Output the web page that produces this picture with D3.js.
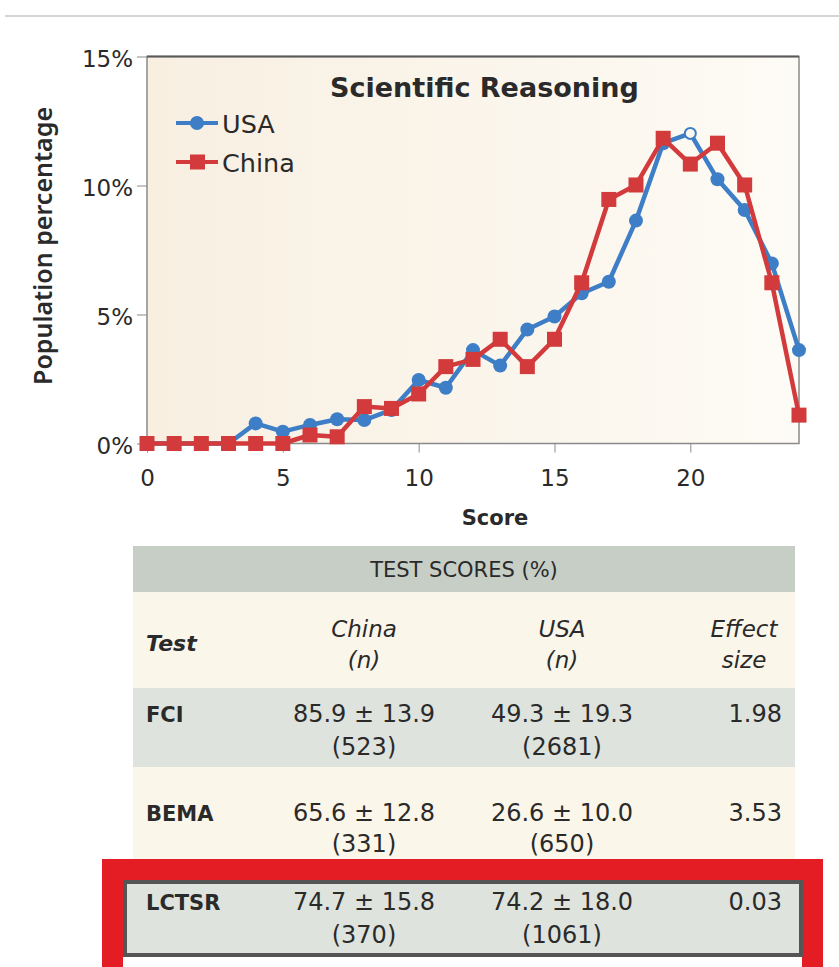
<!DOCTYPE html>
<html>
<head>
<meta charset="utf-8">
<script src="https://cdn.jsdelivr.net/npm/d3@7"></script>
<style>
  body { margin: 0; background: #fff; }
  svg { display: block; font-family: "DejaVu Sans", sans-serif; }
</style>
</head>
<body>
<div id="chart"></div>
<script>
// data
const scores = [0,1,2,3,4,5,6,7,8,9,10,11,12,13,14,15,16,17,18,19,20,21,22,23,24]
const usa   = [0,0,0,0,0.78,0.46,0.72,0.94,0.91,1.30,2.46,2.16,3.62,3.02,4.42,4.92,5.82,6.27,8.64,11.64,12.02,10.24,9.05,6.98,3.62]
const china = [0,0,0,0,0,0,0.33,0.26,1.43,1.36,1.92,2.98,3.26,4.04,2.98,4.04,6.23,9.46,10.02,11.83,10.83,11.64,10.02,6.23,1.10]
const usaOpenScore = 20
const yTicks = [0,5,10,15]
const xTicks = [0,5,10,15,20]

const tests = ["FCI","BEMA","LCTSR"]
const chinaMean = [85.9,65.6,74.7]
const chinaSD = [13.9,12.8,15.8]
const chinaN = [523,331,370]
const usaMean = [49.3,26.6,74.2]
const usaSD = [19.3,10.0,18.0]
const usaN = [2681,650,1061]
const effectSize = [1.98,3.53,0.03]

const W = 839, H = 967
const blue = "#3d7ec6", red = "#d23a3b", ink = "#2a2a2a"

const svg = d3.select("#chart").append("svg").attr("width", W).attr("height", H)

// top rule
svg.append("line").attr("x1",5).attr("x2",W).attr("y1",16).attr("y2",16)
  .attr("stroke","#d4d4d4").attr("stroke-width",2)

// plot
const x = d3.scaleLinear().domain([0,24]).range([147,799])
const y = d3.scaleLinear().domain([0,15]).range([443.5,56.5])

const defs = svg.append("defs")
const grad = defs.append("linearGradient").attr("id","bg")
grad.append("stop").attr("offset","0%").attr("stop-color","#f8efe1")
grad.append("stop").attr("offset","100%").attr("stop-color","#fdfbf5")

svg.append("rect").attr("x",x(0)).attr("y",y(15))
  .attr("width",x(24)-x(0)).attr("height",y(0)-y(15))
  .attr("fill","url(#bg)").attr("stroke","#8a8a8a").attr("stroke-width",1.5)
svg.append("line").attr("x1",x(0)).attr("x2",x(24)).attr("y1",y(15)).attr("y2",y(15))
  .attr("stroke","#5a5a5a").attr("stroke-width",2)

const yAxis = svg.append("g").attr("transform",`translate(${x(0)},0)`)
  .call(d3.axisLeft(y).tickValues(yTicks).tickSize(10).tickPadding(4).tickFormat(d => d + "%"))
const xAxis = svg.append("g").attr("transform",`translate(0,${y(0)})`)
  .call(d3.axisBottom(x).tickValues(xTicks).tickSize(9))
;[yAxis, xAxis].forEach(a => {
  a.select(".domain").remove()
  a.selectAll("line").attr("stroke","#8a8a8a")
  a.selectAll("text").attr("font-size",23).attr("fill",ink).attr("font-family","DejaVu Sans")
})
yAxis.selectAll("text").attr("dy","0.42em")
xAxis.selectAll("text").attr("y",42).attr("dy",0)

svg.append("text").attr("x",495).attr("y",525).attr("text-anchor","middle")
  .attr("font-size",21).attr("font-weight",700).attr("fill",ink).text("Score")
svg.append("text").attr("transform","translate(52,246) rotate(-90)").attr("text-anchor","middle")
  .attr("font-family","Noto Sans").attr("font-size",25).attr("font-weight",600)
  .attr("fill",ink).text("Population percentage")

svg.append("text").attr("x",330).attr("y",97)
  .attr("font-size",27).attr("font-weight",700).attr("fill",ink).text("Scientific Reasoning")

const line = d3.line().x((d,i) => x(scores[i])).y(d => y(d))

// USA
svg.append("path").datum(usa).attr("d",line).attr("fill","none")
  .attr("stroke",blue).attr("stroke-width",4.5).attr("stroke-linejoin","round")
svg.selectAll(".usa").data(usa).enter().append("circle").attr("class","usa")
  .attr("cx",(d,i) => x(scores[i])).attr("cy",d => y(d))
  .attr("r",(d,i) => scores[i] == usaOpenScore ? 5.5 : 7)
  .attr("fill",(d,i) => scores[i] == usaOpenScore ? "#fbf8f0" : blue)
  .attr("stroke",blue).attr("stroke-width",(d,i) => scores[i] == usaOpenScore ? 2 : 0)

// China
svg.append("path").datum(china).attr("d",line).attr("fill","none")
  .attr("stroke",red).attr("stroke-width",4.5).attr("stroke-linejoin","round")
svg.selectAll(".china").data(china).enter().append("rect").attr("class","china")
  .attr("x",(d,i) => x(scores[i]) - 7.5).attr("y",d => y(d) - 7.5)
  .attr("width",15).attr("height",15).attr("fill",red)

// legend
const legend = [{name:"USA", color:blue, y:123}, {name:"China", color:red, y:162}]
legend.forEach(l => {
  svg.append("line").attr("x1",176).attr("x2",218).attr("y1",l.y).attr("y2",l.y)
    .attr("stroke",l.color).attr("stroke-width",4)
  if (l.name == "USA")
    svg.append("circle").attr("cx",197).attr("cy",l.y).attr("r",7).attr("fill",l.color)
  else
    svg.append("rect").attr("x",190).attr("y",l.y-7.5).attr("width",15).attr("height",15).attr("fill",l.color)
  svg.append("text").attr("x",222).attr("y",l.y+9.5).attr("font-size",25.5)
    .attr("fill",ink).text(l.name)
})

// table
const T = {left:133, right:795}
const rowTop = [688,767,862], rowBottom = [767,862,957]
const colChina = 364, colUSA = 562, colEffect = 782, colTest = 146

svg.append("rect").attr("x",T.left).attr("y",546).attr("width",T.right-T.left).attr("height",46).attr("fill","#c6cec6")
svg.append("rect").attr("x",T.left).attr("y",592).attr("width",T.right-T.left).attr("height",96).attr("fill","#fbf6ea")
svg.append("text").attr("x",(T.left+T.right)/2).attr("y",577).attr("text-anchor","middle")
  .attr("font-size",21).attr("fill",ink).text("TEST SCORES (%)")

const hdr = svg.append("g").attr("font-style","italic").attr("font-size",23).attr("fill",ink)
hdr.append("text").attr("x",colTest).attr("y",651).attr("font-weight",700).attr("font-size",22).text("Test")
;[["China",colChina],["USA",colUSA],["Effect",744]].forEach(h => {
  hdr.append("text").attr("x",h[1]).attr("y",637).attr("text-anchor","middle").text(h[0])
})
;[["(n)",colChina],["(n)",colUSA],["size",744]].forEach(h => {
  hdr.append("text").attr("x",h[1]).attr("y",668).attr("text-anchor","middle").text(h[0])
})

tests.forEach((t,i) => {
  const fill = i % 2 == 0 ? "#dfe3de" : "#fbf6ea"
  svg.append("rect").attr("x",T.left).attr("y",rowTop[i]).attr("width",T.right-T.left)
    .attr("height",rowBottom[i]-rowTop[i]).attr("fill",fill)
})

// red highlight box around the last row
svg.append("rect").attr("x",112.5).attr("y",869.5).attr("width",700).attr("height",110)
  .attr("fill","none").attr("stroke","#e41c24").attr("stroke-width",21)
svg.append("rect").attr("x",125).attr("y",882).attr("width",676).attr("height",73)
  .attr("fill","#dfe3de").attr("stroke","#555").attr("stroke-width",4)

const fmt = d3.format(".1f")
const lineY = [722,821,910], lineGap = [33,31,33]
tests.forEach((t,i) => {
  const g = svg.append("g").attr("fill",ink).attr("font-size",24)
  g.append("text").attr("x",colTest).attr("y",lineY[i]).attr("font-size",21).attr("font-weight",700).text(t)
  g.append("text").attr("x",colChina).attr("y",lineY[i]).attr("text-anchor","middle")
    .text(fmt(chinaMean[i]) + " \u00b1 " + fmt(chinaSD[i]))
  g.append("text").attr("x",colChina).attr("y",lineY[i]+lineGap[i]).attr("text-anchor","middle")
    .text("(" + chinaN[i] + ")")
  g.append("text").attr("x",colUSA).attr("y",lineY[i]).attr("text-anchor","middle")
    .text(fmt(usaMean[i]) + " \u00b1 " + fmt(usaSD[i]))
  g.append("text").attr("x",colUSA).attr("y",lineY[i]+lineGap[i]).attr("text-anchor","middle")
    .text("(" + usaN[i] + ")")
  g.append("text").attr("x",colEffect).attr("y",lineY[i]).attr("text-anchor","end")
    .text(d3.format(".2f")(effectSize[i]))
})
</script>
</body>
</html>
